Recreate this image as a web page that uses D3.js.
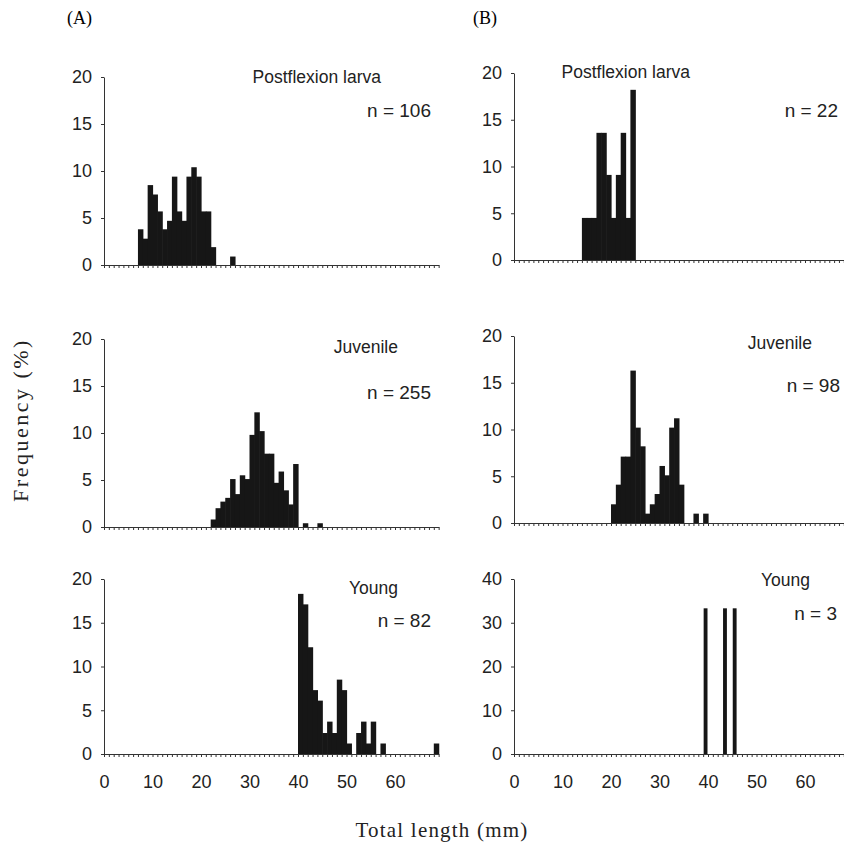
<!DOCTYPE html>
<html>
<head>
<meta charset="utf-8">
<script src="https://cdn.jsdelivr.net/npm/d3@7"></script>
<style>
  body { margin: 0; background: #fff; }
  svg { display: block; }
  .tick text { font-family: "Liberation Sans", Arial, sans-serif; fill: #222; }
  .domain, .tick line { stroke: #333; }
</style>
</head>
<body>
<div id="chart"></div>
<script>
// frequency (%) by 1 mm total-length class (class start, mm)
var postA_len = [7, 8, 9, 10, 11, 12, 13, 14, 15, 16, 17, 18, 19, 20, 21, 22, 26];
var postA_pct = [3.8, 2.8, 8.5, 7.5, 5.7, 3.8, 4.7, 9.4, 5.7, 4.7, 9.4, 10.4, 9.4, 5.7, 5.7, 1.9, 0.9];

var postB_len = [14, 15, 16, 17, 18, 19, 20, 21, 22, 23, 24];
var postB_pct = [4.5, 4.5, 4.5, 13.6, 13.6, 9.1, 4.5, 9.1, 13.6, 4.5, 18.2];

var juvA_len = [22, 23, 24, 25, 26, 27, 28, 29, 30, 31, 32, 33, 34, 35, 36, 37, 38, 39, 41, 44];
var juvA_pct = [0.8, 2.0, 2.7, 3.1, 5.1, 3.5, 5.5, 5.1, 9.8, 12.2, 10.2, 7.8, 7.8, 4.7, 5.9, 3.9, 2.4, 6.7, 0.4, 0.4];

var juvB_len = [20, 21, 22, 23, 24, 25, 26, 27, 28, 29, 30, 31, 32, 33, 34, 37, 39];
var juvB_pct = [2.0, 4.1, 7.1, 7.1, 16.3, 10.2, 8.2, 1.0, 2.0, 3.1, 6.1, 5.1, 10.2, 11.2, 4.1, 1.0, 1.0];

var youngA_len = [40, 41, 42, 43, 44, 45, 46, 47, 48, 49, 50, 52, 53, 54, 55, 57, 68];
var youngA_pct = [18.3, 17.1, 12.2, 7.3, 6.1, 2.4, 3.7, 2.4, 8.5, 7.3, 1.2, 2.4, 3.7, 1.2, 3.7, 1.2, 1.2];

var youngB_len = [39, 43, 45];
var youngB_pct = [33.3, 33.3, 33.3];

var stages = ["Postflexion larva", "Juvenile", "Young"];
var nA = [106, 255, 82];
var nB = [22, 98, 3];
var yTicksSmall = [0, 5, 10, 15, 20];
var yTicksBig = [0, 10, 20, 30, 40];
var xLabels = [0, 10, 20, 30, 40, 50, 60];

var W = 844, H = 845;
var pxPerMm = 4.85, xMax = 69;

var svg = d3.select('#chart').append('svg')
  .attr('width', W).attr('height', H);

// one entry per panel: where it sits and where its captions go
var panels = [
  { len: postA_len, pct: postA_pct, x0: 104, base: 265, top: 77,  yMax: 20, ticks: yTicksSmall,
    title: stages[0], n: nA[0], tx: 381, ty: 83,  nx: 431, ny: 117, bottom: false },
  { len: postB_len, pct: postB_pct, x0: 514, base: 260, top: 73,  yMax: 20, ticks: yTicksSmall,
    title: stages[0], n: nB[0], tx: 690, ty: 78,  nx: 838, ny: 117, bottom: false },
  { len: juvA_len, pct: juvA_pct, x0: 104, base: 527, top: 339, yMax: 20, ticks: yTicksSmall,
    title: stages[1], n: nA[1], tx: 398, ty: 353, nx: 431, ny: 399, bottom: false },
  { len: juvB_len, pct: juvB_pct, x0: 514, base: 523, top: 336, yMax: 20, ticks: yTicksSmall,
    title: stages[1], n: nB[1], tx: 812, ty: 349, nx: 840, ny: 392, bottom: false },
  { len: youngA_len, pct: youngA_pct, x0: 104, base: 754, top: 579, yMax: 20, ticks: yTicksSmall,
    title: stages[2], n: nA[2], tx: 398, ty: 594, nx: 431, ny: 627, bottom: true },
  { len: youngB_len, pct: youngB_pct, x0: 514, base: 754, top: 579, yMax: 40, ticks: yTicksBig,
    title: stages[2], n: nB[2], tx: 810, ty: 586, nx: 837, ny: 620, bottom: true }
];

panels.forEach(function(p) {
  var x = d3.scaleLinear().domain([0, xMax]).range([p.x0, p.x0 + xMax * pxPerMm]);
  var y = d3.scaleLinear().domain([0, p.yMax]).range([p.base, p.top]);
  var g = svg.append('g');

  var rows = p.len.map(function(d, i) { return { len: d, pct: p.pct[i] }; });
  var narrow = p.yMax > 20;

  // neighbouring classes overlap a hair so the blocks read as one mass
  g.selectAll('rect.bar').data(rows).enter().append('rect')
    .attr('class', 'bar')
    .attr('x', function(d) { return x(d.len) + (narrow ? 0.5 : 0); })
    .attr('width', function(d) { return x(d.len + 1) - x(d.len) + (narrow ? -1 : 0.6); })
    .attr('y', function(d) { return y(d.pct); })
    .attr('height', function(d) { return y(0) - y(d.pct); })
    .attr('fill', '#161616');

  // x axis: 1 mm minor ticks
  g.append('g')
    .attr('transform', 'translate(0,' + p.base + ')')
    .call(d3.axisBottom(x).tickValues(d3.range(0, xMax + 1)).tickSize(3).tickFormat('').tickSizeOuter(0));

  if (p.bottom) {
    g.append('g')
      .attr('transform', 'translate(0,' + p.base + ')')
      .call(d3.axisBottom(x).tickValues(xLabels).tickSize(0).tickPadding(21))
      .call(function(a) { a.select('.domain').remove(); })
      .selectAll('text').style('font-size', '18px');
  }

  g.append('g')
    .attr('transform', 'translate(' + p.x0 + ',0)')
    .call(d3.axisLeft(y).tickValues(p.ticks).tickSize(3).tickPadding(9).tickSizeOuter(0))
    .selectAll('text').style('font-size', '18px');

  g.append('text')
    .attr('x', p.tx).attr('y', p.ty)
    .attr('text-anchor', 'end')
    .style('font-family', '"Liberation Sans", Arial, sans-serif')
    .style('font-size', '17.5px')
    .attr('fill', '#222')
    .text(p.title);

  g.append('text')
    .attr('x', p.nx).attr('y', p.ny)
    .attr('text-anchor', 'end')
    .style('font-family', '"Liberation Sans", Arial, sans-serif')
    .style('font-size', '19px')
    .attr('fill', '#222')
    .text('n = ' + p.n);
});

// panel letters and axis titles
svg.append('text').attr('x', 67).attr('y', 24)
  .style('font-family', '"Liberation Serif", serif').style('font-size', '18px')
  .text('(A)');
svg.append('text').attr('x', 473).attr('y', 24)
  .style('font-family', '"Liberation Serif", serif').style('font-size', '18px')
  .text('(B)');

svg.append('text')
  .attr('transform', 'translate(28,420) rotate(-90)')
  .attr('text-anchor', 'middle')
  .style('font-family', '"Liberation Serif", serif').style('font-size', '22px')
  .style('letter-spacing', '2.5px')
  .attr('fill', '#222')
  .text('Frequency (%)');

svg.append('text')
  .attr('x', 442).attr('y', 837)
  .attr('text-anchor', 'middle')
  .style('font-family', '"Liberation Serif", serif').style('font-size', '21px')
  .style('letter-spacing', '1.2px')
  .attr('fill', '#222')
  .text('Total length (mm)');
</script>
</body>
</html>
